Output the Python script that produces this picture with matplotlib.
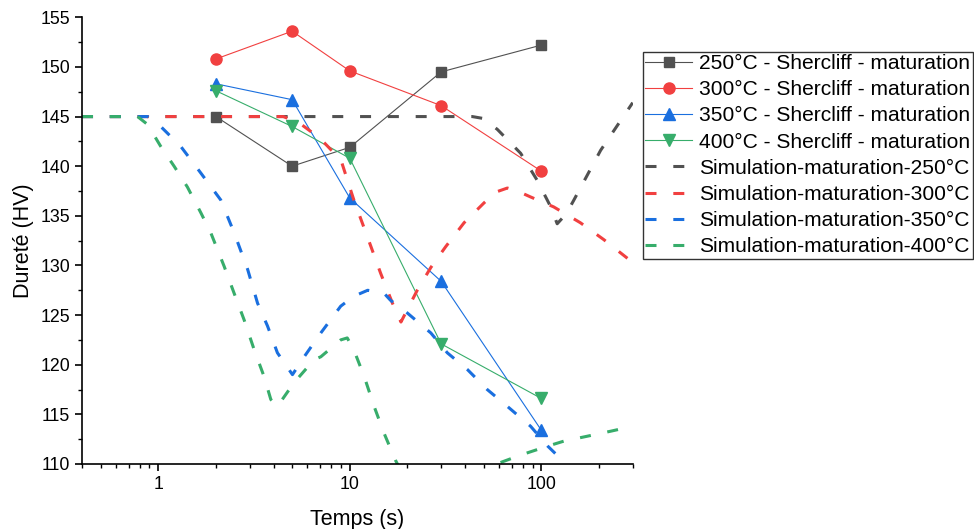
import matplotlib
matplotlib.use("Agg")
import matplotlib.pyplot as plt
from matplotlib.ticker import LogLocator, NullFormatter, MultipleLocator, FixedLocator, FixedFormatter

plt.rcParams['font.family'] = ['Liberation Sans', 'DejaVu Sans']

# measured points (Shercliff - maturation)
t_exp = [2, 5, 10, 30, 100]
hv_250 = [145.0, 140.0, 141.9, 149.5, 152.2]
hv_300 = [150.8, 153.6, 149.6, 146.1, 139.5]
hv_350 = [148.3, 146.7, 136.8, 128.4, 113.4]
hv_400 = [147.6, 144.0, 140.8, 122.1, 116.6]

# simulation curves
sim250_t = [0.4, 1, 5, 20, 43.6, 50, 59, 78, 95, 112, 121, 135, 148, 204, 300]
sim250_hv = [145, 145, 145, 145, 145, 144.8, 143.7, 141.3, 138.6, 135.9, 134.2, 135.2, 136.6, 141.6, 146.4]

sim300_t = [0.4, 1, 4.5, 5.5, 7, 9, 10.5, 12.9, 14.5, 16.7, 18.5, 22.5, 26.5, 31.7, 39.5,
            50.2, 58, 66.5, 75, 87.9, 116, 160, 212, 300]
sim300_hv = [145, 145, 145, 144.3, 142.8, 140.6, 136.6, 131.9, 129.2, 126.2, 124.3, 127.5, 129.8, 131.9, 134.3,
             136.3, 137.4, 137.8, 137.5, 136.9, 135.9, 134.3, 132.6, 130.3]

sim350_t = [0.4, 0.88, 1.03, 1.31, 1.67, 2.12, 2.49, 2.93, 3.3, 3.72, 4.19, 5.02, 5.78, 7.06, 8.97,
            10.5, 12.4, 15.1, 16.3, 20, 26.5, 32.3, 41.2, 52.2, 66.5, 87.9, 108, 133, 170, 300]
sim350_hv = [145, 145, 144, 142, 139.3, 136.6, 133.3, 129.6, 126.2, 123.9, 121.2, 119.0, 120.8, 123.2, 125.9,
             126.9, 127.5, 127.2, 126.5, 125.2, 123.2, 121.2, 119.5, 117.5, 115.8, 113.8, 111.8, 110.1, 107, 102]

sim400_t = [0.4, 0.78, 0.88, 1.03, 1.21, 1.42, 1.67, 1.88, 2.21, 2.49, 2.81, 3.17, 3.57, 3.87, 4.19,
            5.12, 6.51, 7.06, 8.97, 9.7, 10.5, 11.9, 13.4, 15.1, 17.3, 20, 30, 45, 60.3, 78, 108, 131,
            174, 230, 300]
sim400_hv = [145, 145, 144.2, 142, 140, 137.9, 135.3, 133.3, 129.9, 127.2, 124.5, 121.5, 118.8, 116.5, 115.8,
             118.2, 120.5, 120.8, 122.5, 122.7, 121.5, 118.8, 115.8, 113.1, 110.4, 108, 104, 106, 110.1, 110.9,
             111.8, 112.3, 112.8, 113.3, 113.8]

gray, red, blue, green = '#515151', '#F14040', '#1A6FDF', '#37AD6B'

fig = plt.figure(figsize=(9.74, 5.29), dpi=100)
ax = fig.add_axes([0.0842, 0.1229, 0.5654, 0.8444])

lw_exp = 0.8
ax.plot(t_exp, hv_250, color=gray, lw=lw_exp, marker='s', ms=7, label='250°C - Shercliff - maturation')
ax.plot(t_exp, hv_300, color=red, lw=lw_exp, marker='o', ms=8, label='300°C - Shercliff - maturation')
ax.plot(t_exp, hv_350, color=blue, lw=lw_exp, marker='^', ms=8, label='350°C - Shercliff - maturation')
ax.plot(t_exp, hv_400, color=green, lw=lw_exp, marker='v', ms=8, label='400°C - Shercliff - maturation')

lw_sim = 2.2
dash = (3.6, 5.5)
ax.plot(sim250_t, sim250_hv, color=gray, lw=lw_sim, dashes=dash, label='Simulation-maturation-250°C')
ax.plot(sim300_t, sim300_hv, color=red, lw=lw_sim, dashes=dash, label='Simulation-maturation-300°C')
ax.plot(sim350_t, sim350_hv, color=blue, lw=lw_sim, dashes=dash, label='Simulation-maturation-350°C')
ax.plot(sim400_t, sim400_hv, color=green, lw=lw_sim, dashes=dash, label='Simulation-maturation-400°C')

ax.set_xscale('log')
ax.set_xlim(0.4, 300)
ax.set_ylim(110, 155)
ax.xaxis.set_major_locator(FixedLocator([1, 10, 100]))
ax.xaxis.set_major_formatter(FixedFormatter(['1', '10', '100']))
ax.xaxis.set_minor_locator(LogLocator(base=10, subs=range(2, 10)))
ax.xaxis.set_minor_formatter(NullFormatter())
ax.yaxis.set_major_locator(MultipleLocator(5))
ax.yaxis.set_minor_locator(MultipleLocator(2.5))

for s in ['top', 'right']:
    ax.spines[s].set_visible(False)
for s in ['left', 'bottom']:
    ax.spines[s].set_linewidth(1.2)
ax.tick_params(which='major', direction='out', length=5, width=1.2, labelsize=12.8)
ax.tick_params(which='minor', direction='out', length=3, width=1.0)

ax.set_xlabel('Temps (s)', fontsize=15.5, labelpad=12)
ax.set_ylabel('Dureté (HV)', fontsize=15.5, labelpad=5)

leg = fig.legend(loc='upper left', bbox_to_anchor=(642.7 / 974, 1 - 51.7 / 529),
                 fontsize=15.1, frameon=True, fancybox=False, edgecolor='black',
                 handlelength=2.24, handletextpad=0.33, labelspacing=0.34,
                 borderpad=0.12, borderaxespad=0)
leg.get_frame().set_linewidth(1.0)

fig.savefig('out.png', dpi=100)
